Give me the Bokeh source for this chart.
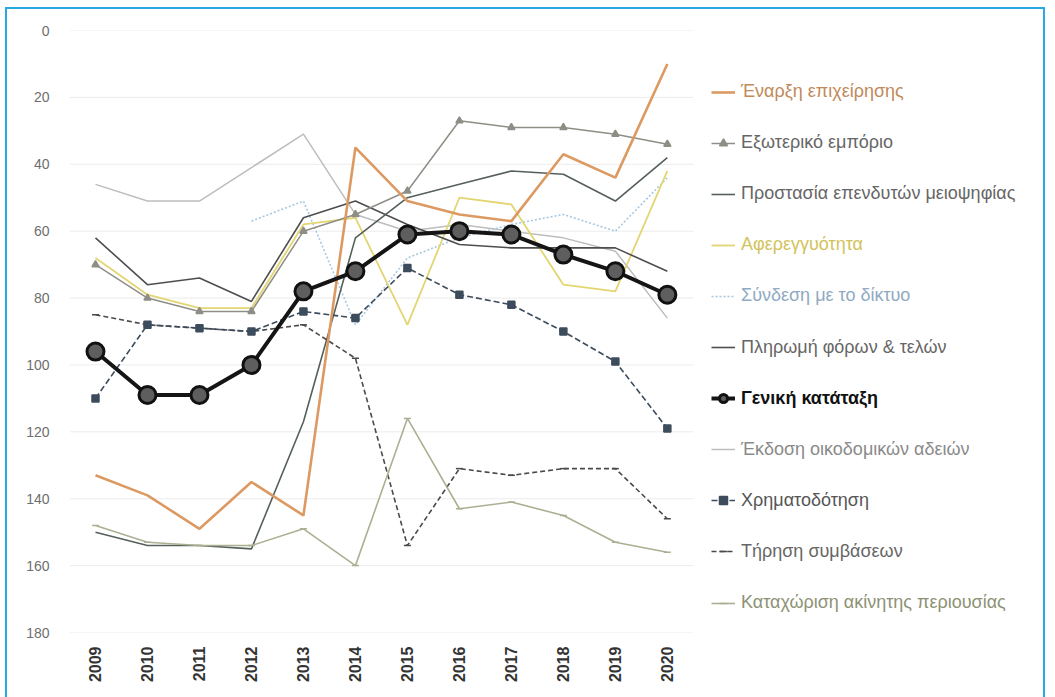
import math
from bokeh.plotting import figure
from bokeh.models import Range1d, FixedTicker, Legend, LegendItem
from bokeh.embed import file_html
from bokeh.resources import INLINE

nan = float("nan")

# ---------------- data ----------------
years = [2009, 2010, 2011, 2012, 2013, 2014, 2015, 2016, 2017, 2018, 2019, 2020]
year_labels = [str(y) for y in years]
rank_ticks = [0, 20, 40, 60, 80, 100, 120, 140, 160, 180]

names = [
    "Έναρξη επιχείρησης",
    "Εξωτερικό εμπόριο",
    "Προστασία επενδυτών μειοψηφίας",
    "Αφερεγγυότητα",
    "Σύνδεση με το δίκτυο",
    "Πληρωμή φόρων & τελών",
    "Γενική κατάταξη",
    "Έκδοση οικοδομικών αδειών",
    "Χρηματοδότηση",
    "Τήρηση συμβάσεων",
    "Καταχώριση ακίνητης περιουσίας",
]

starting_business = [133, 139, 149, 135, 145, 35, 51, 55, 57, 37, 44, 10]
foreign_trade     = [70, 80, 84, 84, 60, 55, 48, 27, 29, 29, 31, 34]
investors         = [150, 154, 154, 155, 117, 62, 50, 46, 42, 43, 51, 38]
insolvency        = [68, 79, 83, 83, 58, 56, 88, 50, 52, 76, 78, 42]
network           = [nan, nan, nan, 57, 51, 88, 68, 62, 58, 55, 60, 44]
taxes             = [62, 76, 74, 81, 56, 51, 58, 64, 65, 65, 65, 72]
overall           = [96, 109, 109, 100, 78, 72, 61, 60, 61, 67, 72, 79]
permits           = [46, 51, 51, 41, 31, 55, 60, 58, 60, 62, 66, 86]
credit            = [110, 88, 89, 90, 84, 86, 71, 79, 82, 90, 99, 119]
contracts         = [85, 88, 89, 90, 88, 98, 154, 131, 133, 131, 131, 146]
property_reg      = [148, 153, 154, 154, 149, 160, 116, 143, 141, 145, 153, 156]

values = [starting_business, foreign_trade, investors, insolvency, network, taxes,
          overall, permits, credit, contracts, property_reg]

# ---------------- styles ----------------
styles = [
    dict(color="#DC9A62", width=2.6, dash="solid", marker=None, text="#C08A5A"),
    dict(color="#8E8E86", width=1.5, dash="solid", marker="triangle", text="#666666"),
    dict(color="#55605A", width=1.6, dash="solid", marker=None, text="#666666"),
    dict(color="#E3D572", width=1.8, dash="solid", marker=None, text="#D2C35A"),
    dict(color="#A6C8E0", width=1.6, dash="2 2", marker=None, text="#8FAAC2"),
    dict(color="#4E4E4E", width=1.6, dash="solid", marker=None, text="#666666"),
    dict(color="#151515", width=4.0, dash="solid", marker="circle", text="#111111"),
    dict(color="#BDBDBD", width=1.5, dash="solid", marker=None, text="#8A8A8A"),
    dict(color="#3C4C5C", width=1.6, dash="6 3", marker="square", text="#555555"),
    dict(color="#4A4A4A", width=1.6, dash="5 3", marker="dash", text="#666666"),
    dict(color="#AAB091", width=1.6, dash="solid", marker="dash", text="#8D9275"),
]

W, H = 1040, 694
p = figure(width=W, height=H, output_backend="svg", toolbar_location=None,
           x_range=Range1d(2008.5, 2027.12), y_range=Range1d(180, 0),
           min_border_left=62, min_border_top=21, min_border_bottom=71, min_border_right=10,
           background_fill_color="white", border_fill_color="white")
p.styles = {"border": "2px solid #2AA8E0"}
p.margin = (7, 0, 0, 5)
p.outline_line_color = None
p.xgrid.visible = False
p.ygrid.visible = False

# horizontal grid lines limited to the data area
p.segment(x0=years[0] - 0.5, x1=years[-1] + 0.5, y0=rank_ticks, y1=rank_ticks,
          line_color="#ECECEC", line_width=1)

p.xaxis.ticker = FixedTicker(ticks=years)
p.xaxis.major_label_overrides = {y: l for y, l in zip(years, year_labels)}
p.xaxis.major_label_orientation = math.pi / 2
p.xaxis.axis_line_color = None
p.xaxis.major_tick_line_color = None
p.xaxis.minor_tick_line_color = None
p.xaxis.major_label_text_font = "Liberation Sans"
p.xaxis.major_label_text_font_size = "16px"
p.xaxis.major_label_text_font_style = "bold"
p.xaxis.major_label_text_color = "#333333"
p.xaxis.major_label_standoff = 8

p.yaxis.ticker = FixedTicker(ticks=rank_ticks)
p.yaxis.axis_line_color = None
p.yaxis.major_tick_line_color = None
p.yaxis.minor_tick_line_color = None
p.yaxis.major_label_text_font = "Liberation Sans"
p.yaxis.major_label_text_font_size = "14px"
p.yaxis.major_label_text_color = "#6E6E6E"
p.yaxis.major_label_standoff = 14

order = [7, 4, 3, 5, 1, 2, 9, 10, 8, 0, 6]  # drawing order, overall on top
renderers = {}
for i in order:
    st = styles[i]
    rs = [p.line(years, values[i], line_color=st["color"], line_width=st["width"],
                 line_dash=st["dash"])]
    if st["marker"] == "circle":
        rs.append(p.scatter(years, values[i], marker="circle", size=17,
                            fill_color="#5E5E5E", line_color="#111111", line_width=3))
    elif st["marker"] is not None:
        rs.append(p.scatter(years, values[i], marker=st["marker"], size=7,
                            fill_color=st["color"], line_color=st["color"], line_width=1.5))
    renderers[i] = rs

# one legend block per entry so each label can keep its own colour
frame_bottom_page = 632
first_center = 92
pitch = 51.1
for i, name in enumerate(names):
    st = styles[i]
    yc = first_center + pitch * i
    leg = Legend(items=[LegendItem(label=name, renderers=renderers[i])],
                 location=(642, frame_bottom_page - (yc + 10)),
                 padding=0, margin=0, spacing=0,
                 glyph_width=24, glyph_height=20, label_height=20, label_standoff=6,
                 label_text_font="Liberation Sans", label_text_font_size="18px",
                 label_text_color=st["text"],
                 label_text_font_style="bold" if i == 6 else "normal",
                 background_fill_alpha=0, border_line_color=None)
    p.add_layout(leg, "center")

open("out.html", "w").write(file_html(p, INLINE))
